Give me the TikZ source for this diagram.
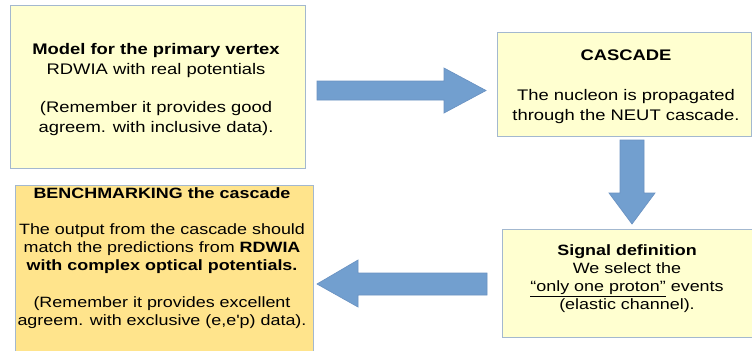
\documentclass[tikz,border=0pt]{standalone}
\usepackage{fontspec}
\setmainfont{Liberation Sans}[FakeStretch=1.2, Ligatures=TeXOff]
\definecolor{boxfill}{HTML}{FFFFD0}
\definecolor{boxfilltwo}{HTML}{FFE48C}
\definecolor{boxline}{HTML}{A3B8CF}
\definecolor{arrowfill}{HTML}{729FCF}
\definecolor{arrowline}{HTML}{6A92C2}
\begin{document}
\begin{tikzpicture}[x=0.75pt, y=-0.75pt,
  box/.style={draw=boxline, line width=0.75pt, fill=boxfill, inner sep=0pt},
  txt/.style={align=center, inner sep=0pt, text=black},
  fa/.style={font=\fontsize{11.5pt}{14.6pt}\selectfont},
  fb/.style={font=\fontsize{11.5pt}{15pt}\selectfont},
  fc/.style={font=\fontsize{11.2pt}{13.6pt}\selectfont},
  fd/.style={font=\fontsize{11.2pt}{13.6pt}\selectfont},
  barrow/.style={fill=arrowfill, draw=arrowline, line width=0.5pt}]
\useasboundingbox (0,0) rectangle (752,350);
\fill[white] (0,0) rectangle (752,350);
% boxes
\node[box, minimum width=221.25pt, minimum height=122.25pt] (b1) at (157.5,86.5) {};
\node[box, minimum width=190.5pt, minimum height=78pt] (b2) at (624,84) {};
\node[box, minimum width=190.5pt, minimum height=81pt] (b3) at (629,283) {};
\node[box, fill=boxfilltwo, minimum width=223.5pt, minimum height=131.25pt] (b4) at (164,272.5) {};
% texts
\node[txt, fa] (t1) at (156,89.5) {\textbf{Model for the primary vertex}\\ RDWIA with real potentials\\[14.6pt] (Remember it provides good\\ agreem. with inclusive data).};
\node[txt, fb] (t2) at (626,87) {\textbf{CASCADE}\\[15pt] The nucleon is propagated\\ through the NEUT cascade.};
\node[txt, fc] (t3) at (627,278.5) {\textbf{Signal definition}\\ We select the\\ \underline{“only one proton”} events\\ (elastic channel).};
\node[txt, fd] (t4) at (162,258) {\textbf{BENCHMARKING the cascade}\\[13.6pt] The output from the cascade should\\ match the predictions from \textbf{RDWIA}\\ \textbf{with complex optical potentials.}\\[13.6pt] (Remember it provides excellent\\ agreem. with exclusive (e,e'p) data).};
% block arrows
\draw[barrow] (317,81) -- (444,81) -- (444,68) -- (486,90.5) -- (444,113) -- (444,100) -- (317,100) -- cycle;
\draw[barrow] (620,140) -- (644,140) -- (644,193) -- (655,193) -- (632,224) -- (609,193) -- (620,193) -- cycle;
\draw[barrow] (487,273) -- (358,273) -- (358,260) -- (317,284) -- (358,307) -- (358,295) -- (487,295) -- cycle;
\end{tikzpicture}
\end{document}
